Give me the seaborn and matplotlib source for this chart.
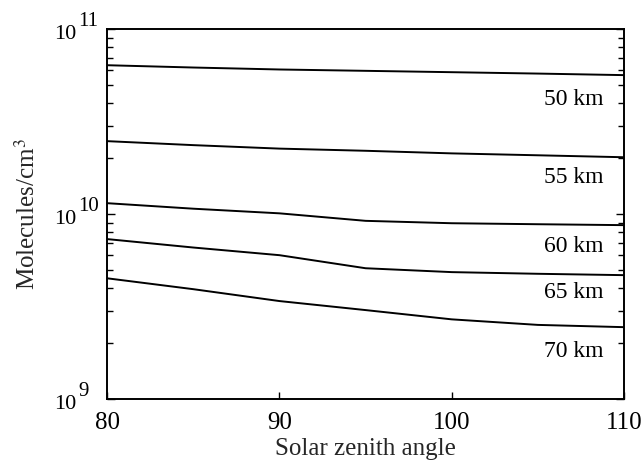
import numpy as np
import pandas as pd
import seaborn as sns
import matplotlib
matplotlib.use("Agg")
import matplotlib.pyplot as plt
from matplotlib.ticker import LogLocator, FixedLocator, NullFormatter

# Data
angles = [80, 85, 90, 95, 100, 105, 110]
alt_labels = ["50 km", "55 km", "60 km", "65 km", "70 km"]
dens_50 = [6.38e10, 6.2e10, 6.05e10, 5.95e10, 5.85e10, 5.75e10, 5.64e10]
dens_55 = [2.48e10, 2.36e10, 2.26e10, 2.2e10, 2.13e10, 2.08e10, 2.03e10]
dens_60 = [1.146e10, 1.07e10, 1.01e10, 9.2e9, 8.93e9, 8.82e9, 8.72e9]
dens_65 = [7.33e9, 6.6e9, 6.0e9, 5.1e9, 4.86e9, 4.76e9, 4.68e9]
dens_70 = [4.5e9, 3.93e9, 3.39e9, 3.03e9, 2.7e9, 2.52e9, 2.45e9]
label_x = 108.8
label_y = [3.88e10, 1.47e10, 6.24e9, 3.52e9, 1.69e9]
y_decades = [9, 10, 11]
x_ticks = [80, 90, 100, 110]

series = [dens_50, dens_55, dens_60, dens_65, dens_70]
df = pd.DataFrame({
    "angle": np.tile(angles, len(alt_labels)),
    "density": np.concatenate(series),
    "alt": np.repeat(alt_labels, len(angles)),
})

sns.set_style("ticks")
plt.rcParams["font.family"] = ["Liberation Serif", "DejaVu Serif"]
plt.rcParams["mathtext.fontset"] = "stix"

fig = plt.figure(figsize=(6.42, 4.62), dpi=100)
ax = fig.add_axes([0.167, 0.136, 0.805, 0.801])

sns.lineplot(data=df, x="angle", y="density", hue="alt",
             palette=["black"] * len(alt_labels), legend=False,
             linewidth=1.4, ax=ax)

ax.set_yscale("log")
ax.set_xlim(80, 110)
ax.set_ylim(1e9, 1e11)

for lab, yv in zip(alt_labels, label_y):
    ax.text(label_x, yv, lab, ha="right", va="baseline", fontsize=17,
            color="black")

ax.xaxis.set_major_locator(FixedLocator(x_ticks))
ax.yaxis.set_major_locator(FixedLocator([10.0 ** e for e in y_decades]))
ax.yaxis.set_minor_locator(LogLocator(base=10, subs=np.arange(2, 10), numticks=20))
ax.yaxis.set_major_formatter(NullFormatter())
ax.yaxis.set_minor_formatter(NullFormatter())

# y tick labels: "10" with a large superscript exponent
for e in y_decades:
    ax.annotate("10", xy=(0, 10.0 ** e), xycoords=("axes fraction", "data"),
                xytext=(-22, -7), textcoords="offset points",
                ha="right", va="baseline", fontsize=16, color="black")
    ax.annotate(str(e), xy=(0, 10.0 ** e), xycoords=("axes fraction", "data"),
                xytext=(-21, 2), textcoords="offset points",
                ha="left", va="baseline", fontsize=15, color="black")

ax.tick_params(axis="both", which="both", direction="in",
               color="black", labelcolor="black")
ax.tick_params(axis="x", labelsize=18, length=5, width=1, pad=9)
ax.tick_params(axis="y", which="both", right=True, left=True)
ax.tick_params(axis="y", which="major", length=6, width=1)
ax.tick_params(axis="y", which="minor", length=4, width=1)

for s in ax.spines.values():
    s.set_visible(True)
    s.set_color("black")
    s.set_linewidth(1.4)

ax.set_xlabel("Solar zenith angle", fontsize=18, labelpad=3)
ax.set_ylabel("Molecules/cm$^3$", fontsize=18)
ax.yaxis.set_label_coords(-0.13, 0.5)

fig.savefig("out.png", dpi=100)
